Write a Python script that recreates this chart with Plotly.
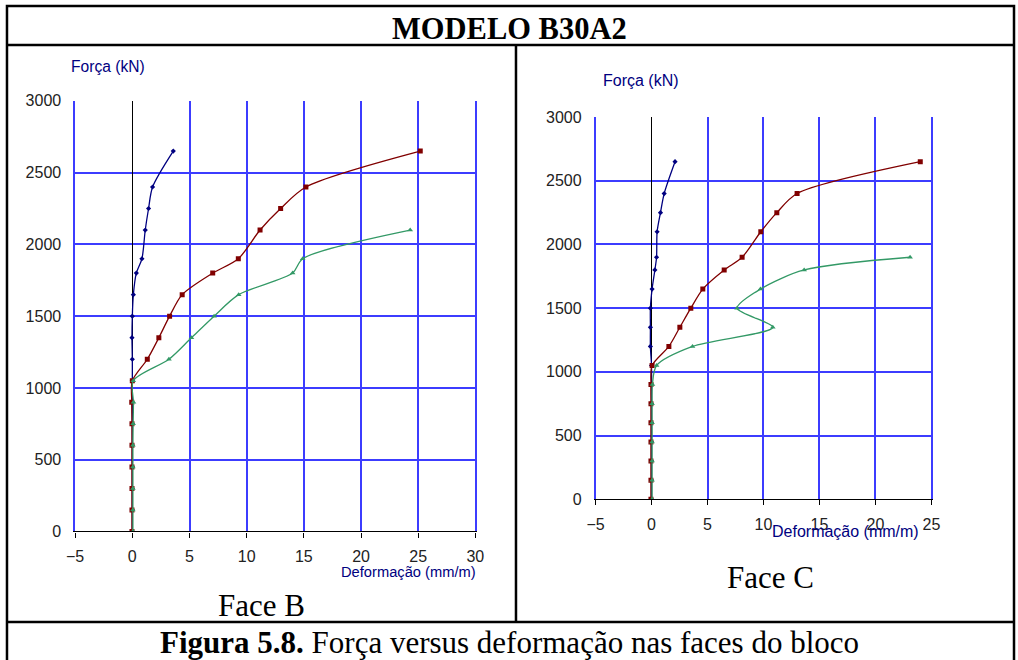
import plotly.graph_objects as go

# Reference picture size (paper coordinates are expressed as fractions of it)
REF_W, REF_H = 1018, 660
# Figure size used so that the photographed page maps 1:1 onto the reference frame
W, H = 1034, 676

# Loads (kN)
loads = [0, 150, 300, 450, 600, 750, 900, 1050, 1200, 1350, 1500, 1650, 1800, 1900, 2100, 2250, 2400, 2650]
loads_green_b = loads[:15]   # up to 2100
loads_green_c = loads[:14]   # up to 1900

# Face B strains (mm/m)
b_blue = [0, 0, 0, 0, 0, 0, 0, 0, 0, -0.03, 0.0, 0.09, 0.35, 0.84, 1.13, 1.42, 1.77, 3.58]
b_red = [-0.03, -0.03, -0.03, -0.03, -0.03, -0.03, -0.05, 0.0, 1.31, 2.32, 3.26, 4.36, 7.03, 9.27, 11.17, 12.97, 15.18, 25.18]
b_green = [0.05, 0.05, 0.05, 0.05, 0.05, 0.07, 0.1, 0.08, 3.2, 5.17, 7.15, 9.3, 14.02, 14.9, 24.3]

# Face C strains (mm/m)
c_blue = [0, 0, 0, 0, 0, 0, 0, 0, -0.1, -0.1, -0.1, 0.05, 0.3, 0.45, 0.5, 0.8, 1.13, 2.1]
c_red = [-0.05, -0.05, -0.05, -0.05, -0.05, -0.05, -0.05, 0.05, 1.55, 2.53, 3.51, 4.58, 6.49, 8.09, 9.76, 11.19, 13.0, 24.0]
c_green = [0.05, 0.05, 0.05, 0.05, 0.05, 0.05, 0.08, 0.45, 3.66, 10.83, 7.64, 9.73, 13.63, 23.09]

x_ticks_b = [-5, 0, 5, 10, 15, 20, 25, 30]
x_ticks_c = [-5, 0, 5, 10, 15, 20, 25]
y_ticks = [0, 500, 1000, 1500, 2000, 2500, 3000]

NAVY = "#000080"
DRED = "#800000"
GREEN = "#339966"
GRID = "rgb(60,60,255)"

fig = go.Figure()

def add_series(xs, ys, color, symbol, size, xa, ya):
    fig.add_trace(go.Scatter(
        x=xs, y=ys, mode="lines+markers",
        line=dict(color=color, width=1.3, shape="spline", smoothing=0.8),
        marker=dict(color=color, symbol=symbol, size=size, line=dict(width=0)),
        xaxis=xa, yaxis=ya, showlegend=False, hoverinfo="x+y"))

# Face B
add_series(b_blue, loads, NAVY, "diamond", 4, "x", "y")
add_series(b_red, loads, DRED, "square", 5, "x", "y")
add_series(b_green, loads_green_b, GREEN, "triangle-up", 5, "x", "y")
# Face C
add_series(c_blue, loads, NAVY, "diamond", 4, "x2", "y2")
add_series(c_red, loads, DRED, "square", 5, "x2", "y2")
add_series(c_green, loads_green_c, GREEN, "triangle-up", 5, "x2", "y2")

def px(x):
    return x / REF_W

def py(y):
    return 1 - y / REF_H

tickfont = dict(family="Arial, Liberation Sans, sans-serif", size=16, color="#222222")

common_x = dict(
    showgrid=True, gridcolor=GRID, gridwidth=1.5,
    zeroline=True, zerolinecolor="#000000", zerolinewidth=1.3,
    showline=True, linecolor="#000000", linewidth=1.3, mirror=False,
    ticks="outside", ticklen=5, tickcolor="#000000", tickwidth=1,
    tickfont=tickfont, ticklabelstandoff=5, fixedrange=True,
)
common_y = dict(
    showgrid=True, gridcolor=GRID, gridwidth=1.5,
    zeroline=False,
    showline=True, linecolor=GRID, linewidth=1.5, mirror=True,
    ticks="outside", ticklen=5, tickcolor="rgba(0,0,0,0)",
    tickfont=tickfont, ticklabelstandoff=4, fixedrange=True,
)

fig.update_layout(
    width=W, height=H,
    margin=dict(l=0, r=0, t=0, b=0),
    paper_bgcolor="white", plot_bgcolor="white",
    xaxis=dict(common_x, domain=[px(74.3), px(475.3)], range=[-5, 30],
               tickvals=x_ticks_b, anchor="y"),
    yaxis=dict(common_y, domain=[py(532.3), py(101)], range=[0, 3000],
               tickvals=y_ticks, anchor="x"),
    xaxis2=dict(common_x, domain=[px(595.7), px(932.3)], range=[-5, 25],
                tickvals=x_ticks_c, anchor="y2"),
    yaxis2=dict(common_y, domain=[py(500), py(117.3)], range=[0, 3000],
                tickvals=y_ticks, anchor="x2"),
)

# Frame lines
frame = dict(color="#000000", width=2.5)
L, R, T, B = px(6), px(1015), py(6), py(664)
shapes = [
    dict(type="rect", xref="paper", yref="paper", x0=L, x1=R, y0=B, y1=T, line=frame),
    dict(type="line", xref="paper", yref="paper", x0=L, x1=R, y0=py(45), y1=py(45), line=frame),
    dict(type="line", xref="paper", yref="paper", x0=px(516), x1=px(516), y0=py(45), y1=py(623), line=frame),
    dict(type="line", xref="paper", yref="paper", x0=L, x1=R, y0=py(623), y1=py(623), line=frame),
]
fig.update_layout(shapes=shapes)

serif = "Liberation Serif, Times New Roman, serif"
sans = "Arial, Liberation Sans, sans-serif"
ann = [
    dict(text="<b>MODELO B30A2</b>", x=px(510), y=py(29), font=dict(family=serif, size=30.5, color="#000")),
    dict(text="<b>Figura 5.8.</b> Força versus deformação nas faces do bloco", x=px(509), y=py(643),
         font=dict(family=serif, size=31, color="#000")),
    dict(text="Face B", x=px(261), y=py(606), font=dict(family=serif, size=31, color="#000")),
    dict(text="Face C", x=px(771), y=py(578), font=dict(family=serif, size=31, color="#000")),
    dict(text="Força (kN)", x=px(107), y=py(67), font=dict(family=sans, size=15.6, color=NAVY)),
    dict(text="Força (kN)", x=px(641), y=py(81), font=dict(family=sans, size=16, color=NAVY)),
    dict(text="Deformação (mm/m)", x=px(408), y=py(573), font=dict(family=sans, size=14.7, color=NAVY)),
    dict(text="Deformação (mm/m)", x=px(846), y=py(532), font=dict(family=sans, size=16, color=NAVY)),
]
for a in ann:
    a.update(xref="paper", yref="paper", showarrow=False, xanchor="center", yanchor="middle")
fig.update_layout(annotations=ann)

post = ("document.documentElement.style.margin='0';document.body.style.margin='0';"
        "document.documentElement.style.overflow='hidden';document.body.style.overflow='hidden';"
        "var d=document.getElementById('{plot_id}');"
        "d.style.position='fixed';d.style.left='-8px';d.style.top='-8px';")
fig.write_html("out.html", config={"displayModeBar": False}, post_script=post)
